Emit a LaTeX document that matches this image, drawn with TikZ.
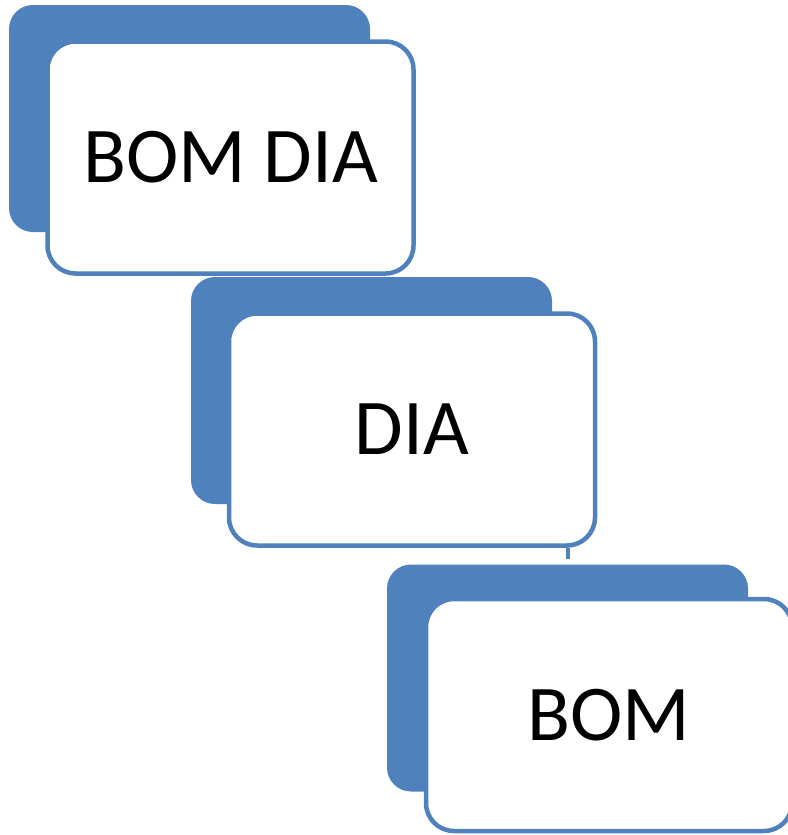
\documentclass[tikz,border=0pt]{standalone}
\usepackage{fontspec}
\setmainfont{Carlito}
\definecolor{officeblue}{HTML}{4F81BD}

\begin{document}
\begin{tikzpicture}[
    x = 1pt, y = -1pt,
    back/.style={fill=officeblue, rectangle, rounded corners=24pt, minimum width=361pt, minimum height=227pt, inner sep=0pt},
    card/.style={draw=officeblue, line width=4.5pt, fill=white, rectangle, rounded corners=28pt, minimum width=366pt, minimum height=232pt, inner sep=0pt, font=\fontsize{79}{90}\selectfont},
    link/.style={draw=officeblue, line width=4.5pt}
]
    \useasboundingbox (0, 0) rectangle (787, 835);

    % Bom dia
    \node (bomdiaback) at (189.5, 118.5) [back] {};
    \node (bomdia) at (230.5, 157.5) [card] {BOM DIA};

    % Dia
    \node (diaback) at (371.5, 390.5) [back] {};
    \node (dia) at (412, 429.5) [card] {DIA};

    % Bom
    \node (bomback) at (567.5, 678) [back] {};
    \node (bom) at (609, 715) [card] {BOM};

    % Stub
    \coordinate (stub) at (568, 559);
    \draw[link] (dia.south -| stub) -- (stub);
\end{tikzpicture}
\end{document}
